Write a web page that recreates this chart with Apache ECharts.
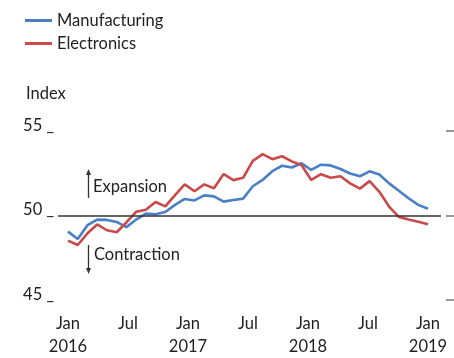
<!DOCTYPE html>
<html>
<head>
<meta charset="UTF-8">
<title>Manufacturing vs Electronics</title>
<script src="https://cdn.jsdelivr.net/npm/echarts@6/dist/echarts.min.js"></script>
<style>
  html, body { margin: 0; padding: 0; background: #fff; }
  #chart { width: 454px; height: 358px; }
</style>
</head>
<body>
<div id="chart"></div>
<script>
// index values, one point per period, Jan 2016 .. Jan 2019
var manufacturing = [
  49.04, 48.60, 49.42, 49.75, 49.73, 49.61, 49.30, 49.75, 50.10, 50.06,
  50.20, 50.62, 50.97, 50.88, 51.18, 51.12, 50.81, 50.91, 50.99, 51.72,
  52.09, 52.61, 52.93, 52.83, 53.08, 52.68, 52.99, 52.95, 52.74, 52.47,
  52.31, 52.60, 52.41, 51.89, 51.45, 51.01, 50.62, 50.39
];
var electronics = [
  48.51, 48.25, 48.94, 49.46, 49.12, 49.00, 49.58, 50.21, 50.33, 50.79,
  50.53, 51.20, 51.83, 51.42, 51.83, 51.60, 52.44, 52.08, 52.22, 53.22,
  53.62, 53.32, 53.49, 53.19, 52.97, 52.09, 52.43, 52.22, 52.31, 51.89,
  51.58, 52.02, 51.39, 50.52, 49.91, 49.75, 49.62, 49.48
];
// tick labels (months since Jan 2016)
var tickMonths = [0, 6, 12, 18, 24, 30, 36];
var tickNames  = ['Jan', 'Jul', 'Jan', 'Jul', 'Jan', 'Jul', 'Jan'];
var tickYears  = ['2016', '', '2017', '', '2018', '', '2019'];
var yTicks = [45, 50, 55];
var baseline = 50;

var FONT = 'Lato';
var FS = 16.5;
var TXT = '#222';
var BLUE = '#4a7fc3';
var RED = '#c94a4a';

// layout in px: grid 58..454, data 68..428, 50-line 58..441, right ticks 446..454
var step = 360 / (manufacturing.length - 1);
function px2i(px) { return (px - 68) / step; }

function pairs(arr) {
  return arr.map(function (v, i) { return [i, v]; });
}

var rightTicks = yTicks.map(function (v) {
  return [{ coord: [px2i(446), v] }, { coord: [px2i(454), v] }];
});

var chart = echarts.init(document.getElementById('chart'));

chart.setOption({
  animation: false,
  backgroundColor: '#fff',
  textStyle: { fontFamily: FONT },
  title: {
    text: 'Index', left: 21, top: 80,
    textStyle: { fontFamily: FONT, fontSize: FS, fontWeight: 'normal', color: TXT }
  },
  legend: {
    orient: 'vertical', left: 20, top: 7, itemGap: 6,
    itemWidth: 27, itemHeight: 3, icon: 'rect',
    textStyle: { fontFamily: FONT, fontSize: FS, color: TXT },
    data: ['Manufacturing', 'Electronics']
  },
  grid: { left: 58, right: 0, top: 130.7, bottom: 55 },
  xAxis: [{
    type: 'value', min: px2i(58), max: px2i(454), show: false
  }, {
    type: 'value', position: 'bottom', min: -1, max: 38.6,
    axisLine: { show: false }, axisTick: { show: false }, splitLine: { show: false },
    axisLabel: {
      customValues: tickMonths,
      margin: 12, fontFamily: FONT, fontSize: FS, lineHeight: 23, color: TXT,
      verticalAlign: 'top',
      formatter: function (v) {
        var k = tickMonths.indexOf(v);
        if (k < 0) return '';
        return tickYears[k] ? tickNames[k] + '\n' + tickYears[k] : tickNames[k];
      }
    }
  }],
  yAxis: {
    type: 'value', min: 45, max: 55, interval: 5,
    axisLine: { show: false }, axisTick: { show: false }, splitLine: { show: false },
    axisLabel: {
      margin: 4, fontFamily: FONT, fontSize: FS, color: TXT,
      verticalAlign: 'bottom', lineHeight: 11,
      formatter: function (v) { return v + ' _'; }
    }
  },
  series: [{
    name: 'Manufacturing', type: 'line',
    data: pairs(manufacturing), showSymbol: false, symbol: 'none',
    lineStyle: { color: BLUE, width: 2.6 }, itemStyle: { color: BLUE },
    markLine: {
      silent: true, symbol: 'none', label: { show: false },
      lineStyle: { color: '#333', width: 1.5, type: 'solid' },
      data: [[{ coord: [px2i(58), baseline] }, { coord: [px2i(441), baseline] }]]
    }
  }, {
    name: 'Electronics', type: 'line',
    data: pairs(electronics), showSymbol: false, symbol: 'none',
    lineStyle: { color: RED, width: 2.6 }, itemStyle: { color: RED },
    markLine: {
      silent: true, symbol: 'none', label: { show: false },
      lineStyle: { color: '#777', width: 1.5, type: 'solid' },
      data: rightTicks
    }
  }],
  graphic: [
    // expansion arrow + label
    { type: 'line', shape: { x1: 88.5, y1: 198, x2: 88.5, y2: 172 }, style: { stroke: '#333', lineWidth: 1.3 } },
    { type: 'polygon', shape: { points: [[88.5, 169], [86, 175], [91, 175]] }, style: { fill: '#333' } },
    { type: 'text', left: 93, top: 178, style: { text: 'Expansion', font: FS + 'px ' + FONT, fill: TXT } },
    // contraction arrow + label
    { type: 'line', shape: { x1: 88.5, y1: 245, x2: 88.5, y2: 271 }, style: { stroke: '#333', lineWidth: 1.3 } },
    { type: 'polygon', shape: { points: [[88.5, 274], [86, 268], [91, 268]] }, style: { fill: '#333' } },
    { type: 'text', left: 94, top: 246, style: { text: 'Contraction', font: FS + 'px ' + FONT, fill: TXT } }
  ]
});
</script>
</body>
</html>
